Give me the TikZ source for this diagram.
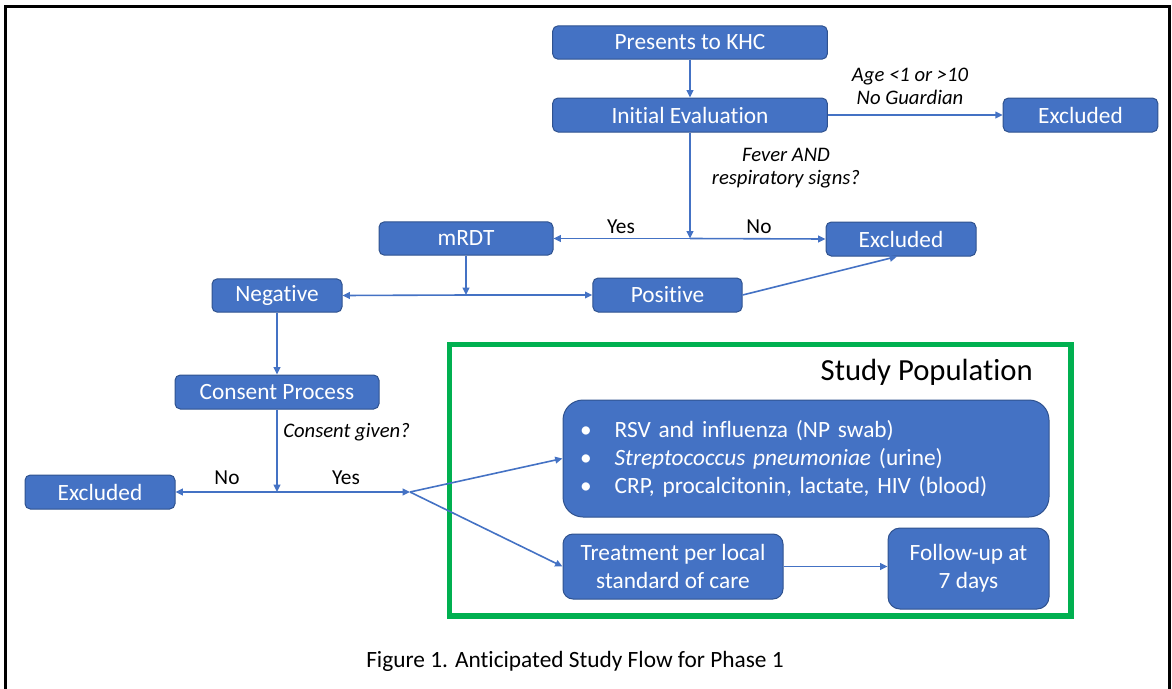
\documentclass[tikz,border=0pt]{standalone}
\usepackage{fontspec}
\setmainfont{Carlito}[Ligatures=NoCommon]
\usetikzlibrary{arrows.meta}
\definecolor{boxblue}{HTML}{4472C4}
\definecolor{boxedge}{HTML}{2F528F}
\definecolor{studygreen}{HTML}{00B050}

\begin{document}
\begin{tikzpicture}[x=0.75pt,y=-0.75pt,
    box/.style={draw=boxedge,fill=boxblue,line width=0.75pt,rounded corners=4pt,
      text=white,font=\fontsize{17.5}{21}\selectfont,inner sep=0pt,align=center},
    flow/.style={draw=boxblue,line width=1.2pt,-{Triangle[length=5.5pt,width=5pt]}},
    cond/.style={font=\fontsize{15.5}{17.75}\selectfont\itshape,align=center,inner sep=0pt},
    answer/.style={font=\fontsize{16}{19}\selectfont,inner sep=0pt}]
  \useasboundingbox (0,0) rectangle (1172,689);
  % frame
  \draw[line width=2pt] (5.5,689) -- (5.5,6.5) -- (1169.5,6.5) -- (1169.5,689);
  % screening boxes
  \node[box,minimum width=206pt,minimum height=25pt] (khc) at (690,42.5) {Presents to KHC};
  \node[box,minimum width=206pt,minimum height=25.5pt] (eval) at (690,115) {Initial Evaluation};
  \node[box,minimum width=116pt,minimum height=25.5pt] (excA) at (1080.5,115) {Excluded};
  \node[box,minimum width=130.5pt,minimum height=25pt] (mrdt) at (466,238.5) {mRDT};
  \node[box,minimum width=112.5pt,minimum height=25.5pt] (excB) at (901,239) {Excluded};
  \node[box,minimum width=97.5pt,minimum height=25pt] (neg) at (277,295.5) {Negative};
  \node[box,minimum width=112pt,minimum height=25.5pt] (pos) at (667.5,295) {Positive};
  \node[box,minimum width=153pt,minimum height=25.5pt] (consent) at (277,392) {Consent Process};
  \node[box,minimum width=112.5pt,minimum height=25.5pt] (excC) at (100,492) {Excluded};
  % study population
  \draw[studygreen,line width=4pt] (449.5,344.5) rectangle (1071,616);
  \node[anchor=east,inner sep=0pt,font=\fontsize{23}{27}\selectfont] (studyT) at (1033,372) {Study Population};
  \node[box,rounded corners=15pt,minimum width=364.5pt,minimum height=87.75pt,
    text width=339pt,align=left,inner xsep=12.75pt] (tests) at (806,458.5)
    {\makebox[26pt][l]{\textbullet}RSV and influenza (NP swab)\\
     \makebox[26pt][l]{\textbullet}\textit{Streptococcus pneumoniae} (urine)\\
     \makebox[26pt][l]{\textbullet}CRP, procalcitonin, lactate, HIV (blood)};
  \node[box,rounded corners=7.5pt,minimum width=165pt,minimum height=48.75pt] (treat) at (673,566.5)
    {Treatment per local\\standard of care};
  \node[box,rounded corners=9pt,minimum width=120.75pt,minimum height=60.75pt] (follow) at (968.5,568.5)
    {Follow-up at\\7 days};
  % junctions
  \coordinate (fevJ) at (690,238.5);
  \coordinate (mrdtJ) at (466,295);
  \coordinate (consJ) at (277,492);
  \coordinate (splitJ) at (410,492);
  % labels
  \node[cond] (ageL) at (910,86.5) {Age <1 or >10\\No Guardian};
  \node[cond] (feverL) at (786,168) {Fever AND\\respiratory signs?};
  \node[answer] (yesA) at (621,227) {Yes};
  \node[answer] (noA) at (759,227) {No};
  \node[cond,anchor=west] (consL) at (283,432) {Consent given?};
  \node[answer] (noB) at (227,478) {No};
  \node[answer] (yesB) at (346,478) {Yes};
  % arrows
  \draw[flow] (khc) -- (eval);
  \draw[flow] (eval) -- (excA);
  \draw[flow] (eval) -- (fevJ);
  \draw[flow] (fevJ) -- (mrdt.east);
  \draw[flow] (fevJ) -- (excB.west);
  \draw[flow] (mrdt) -- (mrdtJ);
  \draw[flow] (mrdtJ) -- (neg.east);
  \draw[flow] (mrdtJ) -- (pos.west);
  \draw[flow] (pos.east) -- ([xshift=-3pt]excB.south);
  \draw[flow] (neg) -- (consent);
  \draw[flow] (consent) -- (consJ);
  \draw[flow] (consJ) -- (excC.east);
  \draw[flow] (consJ) -- (splitJ);
  \draw[flow] (splitJ) -- (tests.west);
  \draw[flow] (splitJ) -- (treat.west);
  \draw[flow] (treat.east) -- (treat.east -| follow.west);
  % caption
  \node[font=\fontsize{17.5}{21}\selectfont] (caption) at (575,661) {Figure 1. Anticipated Study Flow for Phase 1};
\end{tikzpicture}
\end{document}
